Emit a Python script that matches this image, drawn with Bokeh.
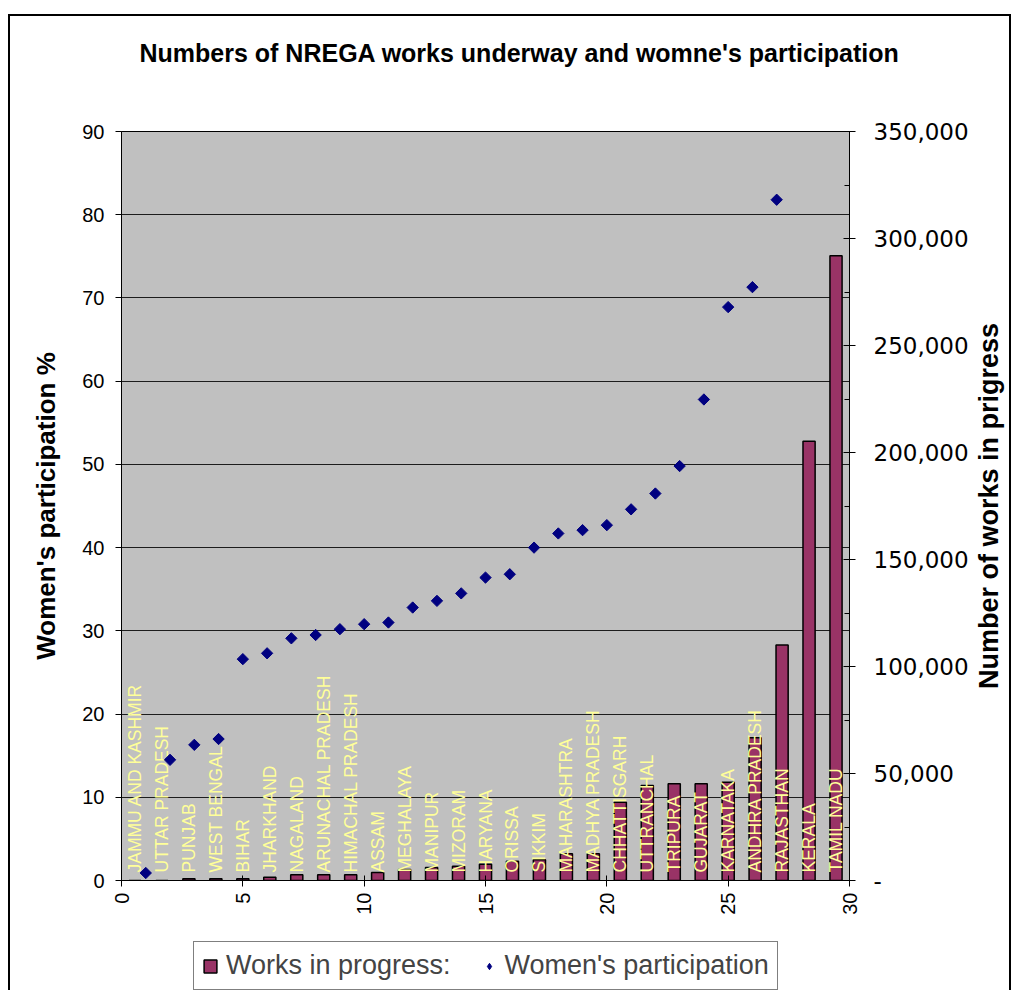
from math import pi
from bokeh.plotting import figure
from bokeh.layouts import column, row
from bokeh.models import (Range1d, LinearAxis, SingleIntervalTicker, Title,
                          CustomJSTickFormatter, Legend, LegendItem, ColumnDataSource)
from bokeh.core.properties import value
from bokeh.embed import file_html
from bokeh.resources import INLINE

# ---------------- data ----------------
states = ["JAMMU AND KASHMIR", "UTTAR PRADESH", "PUNJAB", "WEST BENGAL", "BIHAR",
          "JHARKHAND", "NAGALAND", "ARUNACHAL PRADESH", "HIMACHAL PRADESH", "ASSAM",
          "MEGHALAYA", "MANIPUR", "MIZORAM", "HARYANA", "ORISSA", "SIKKIM",
          "MAHARASHTRA", "MADHYA PRADESH", "CHHATTISGARH", "UTTRANCHAL", "TRIPURA",
          "GUJARAT", "KARNATAKA", "ANDHRA PRADESH", "RAJASTHAN", "KERALA", "TAMIL NADU"]
works = [0, 0, 800, 800, 800, 1500, 2700, 2700, 2700, 3700, 5100, 6100, 6700, 7600,
         9000, 9700, 12500, 12500, 36600, 44400, 45200, 45200, 45900, 66700, 110100,
         205300, 291900]
rank = [1, 2, 3, 4, 5, 6, 7, 8, 9, 10, 11, 12, 13, 14, 15, 16, 17, 18, 19, 20, 21,
        22, 23, 24, 25, 26, 27]
women = [0.9, 14.5, 16.3, 17.0, 26.6, 27.3, 29.1, 29.5, 30.2, 30.8, 31.0, 32.8, 33.6,
         34.5, 36.4, 36.8, 40.0, 41.7, 42.1, 42.7, 44.6, 46.5, 49.8, 57.8, 68.9, 71.3,
         81.8]

title_text = "Numbers of NREGA works underway and womne's participation"
left_title = "Women's participation %"
right_title = "Number of works in prigress"
bar_label = "Works in progress:"
pt_label = "Women's participation"

FONT = "Liberation Sans"
BAR_FILL = "#993366"
PT_FILL = "#000080"

W = 1013
W_MAIN = 975
H_MAIN = 935
H_LEG = 55
WORKS_MAX = 350000

# ---------------- main figure ----------------
p = figure(width=W_MAIN, height=H_MAIN, x_range=Range1d(0, 30), y_range=Range1d(0, 90),
           output_backend="svg", toolbar_location=None, title=None,
           min_border_left=121, min_border_right=W_MAIN - 849, min_border_top=131,
           min_border_bottom=H_MAIN - 880)
# secondary category axis: one slot per state (slot centres at rank - 0.5)
p.extra_x_ranges = {"cat": Range1d(0, len(states))}
p.extra_y_ranges = {"works": Range1d(0, WORKS_MAX)}

p.background_fill_color = "#C0C0C0"
p.border_fill_color = None
p.outline_line_color = "black"
p.outline_line_width = 1

# titles (spacer first, nearest the frame)
p.add_layout(Title(text=" ", text_font_size="43px"), "above")
p.add_layout(Title(text=title_text, text_font=FONT, text_font_size="25px",
                   text_font_style="bold", text_color="black",
                   align="left", offset=18), "above")

# grid
p.xgrid.visible = False
p.ygrid.grid_line_color = "black"
p.ygrid.grid_line_alpha = 0.85

# x axis
p.xaxis.ticker = SingleIntervalTicker(interval=5, num_minor_ticks=0)
p.xaxis.major_label_orientation = pi / 2
p.xaxis.major_label_text_font = FONT
p.xaxis.major_label_text_font_size = "20px"
p.xaxis.major_label_text_color = "black"
p.xaxis.major_tick_in = 5
p.xaxis.major_tick_out = 6
p.xaxis.minor_tick_line_color = None
p.xaxis.axis_line_color = "black"
p.xaxis.major_tick_line_color = "black"
p.xaxis.major_label_standoff = 6

# left axis
p.yaxis.ticker = SingleIntervalTicker(interval=10, num_minor_ticks=0)
p.ygrid.ticker = p.yaxis[0].ticker
p.yaxis.major_label_text_font = FONT
p.yaxis.major_label_text_font_size = "20px"
p.yaxis.major_label_text_color = "black"
p.yaxis.major_tick_in = 0
p.yaxis.major_tick_out = 6
p.yaxis.minor_tick_line_color = None
p.yaxis.axis_line_color = "black"
p.yaxis.major_tick_line_color = "black"
p.yaxis.major_label_standoff = 11
p.yaxis.axis_label = left_title
p.yaxis.axis_label_text_font = FONT
p.yaxis.axis_label_text_font_size = "26px"
p.yaxis.axis_label_text_font_style = "bold"
p.yaxis.axis_label_text_color = "black"
p.yaxis.axis_label_standoff = 18

# right axis (ticks and labels)
ax2 = LinearAxis(y_range_name="works",
                 ticker=SingleIntervalTicker(interval=50000, num_minor_ticks=2),
                 formatter=CustomJSTickFormatter(
                     code="return tick == 0 ? '-' : tick.toLocaleString('en-US');"))
ax2.major_label_text_font = "DejaVu Sans"
ax2.major_label_text_font_size = "23px"
ax2.major_label_text_color = "black"
ax2.major_tick_in = 6
ax2.major_tick_out = 6
ax2.minor_tick_in = 5
ax2.minor_tick_out = 0
ax2.major_label_standoff = 18
ax2.axis_line_color = "black"
p.add_layout(ax2, "right")

# bars
slot = [r - 0.5 for r in rank]
src = ColumnDataSource(dict(slot=slot, state=states, works=works))
bars = p.vbar(x="slot", top="works", width=0.45, source=src,
              x_range_name="cat", y_range_name="works",
              fill_color=BAR_FILL, line_color="black", line_width=1.5)

label_y = 8 * WORKS_MAX / 748.0
p.text(x="slot", y=label_y, text="state", source=src,
       x_range_name="cat", y_range_name="works",
       angle=pi / 2, text_align="left", text_baseline="middle",
       text_color="#FFFF99", text_font=value(FONT), text_font_size="17.5px")

# diamonds
pts = p.scatter(x=rank, y=women, marker="square", size=8, angle=pi / 4,
                fill_color=PT_FILL, line_color=PT_FILL)

# ---------------- right title strip ----------------
W_R = W - W_MAIN
rf = figure(width=W_R, height=H_MAIN, x_range=Range1d(0, W_R), y_range=Range1d(0, 1),
            output_backend="svg", toolbar_location=None, title=None,
            x_axis_location=None, y_axis_location=None,
            min_border_left=0, min_border_right=0, min_border_top=131,
            min_border_bottom=H_MAIN - 880)
rf.grid.visible = False
rf.outline_line_color = None
rf.background_fill_color = None
rf.border_fill_color = None
rf.text(x=[13], y=[0.5], text=[right_title], angle=pi / 2, text_align="center",
        text_baseline="middle", text_color="black", text_font=value(FONT),
        text_font_size="27px", text_font_style="bold")

# ---------------- legend strip ----------------
lf = figure(width=W, height=H_LEG, x_range=Range1d(0, 1), y_range=Range1d(0, 1),
            output_backend="svg", toolbar_location=None, title=None,
            x_axis_location=None, y_axis_location=None,
            min_border_left=121, min_border_right=W - 849, min_border_top=0,
            min_border_bottom=0)
lf.grid.visible = False
lf.outline_line_color = None
lf.background_fill_color = None
lf.border_fill_color = None
# legend proxies (tiny, hidden beneath the opaque legend box)
lb = lf.vbar(x=[0.5], bottom=[0.3], top=[0.32], width=0.005, fill_color=BAR_FILL,
             line_color="black", line_width=1.5)
lp = lf.scatter(x=[0.5], y=[0.31], marker="diamond", size=2, fill_color=PT_FILL,
                line_color=PT_FILL)
legend = Legend(items=[LegendItem(label=bar_label, renderers=[lb]),
                       LegendItem(label=pt_label, renderers=[lp])],
                location=(72, 0), orientation="horizontal",
                glyph_width=16, glyph_height=16, label_standoff=8, spacing=30,
                padding=8, margin=0, label_text_font=FONT,
                label_text_font_size="27px", border_line_color="black",
                border_line_width=1, background_fill_color="white",
                background_fill_alpha=1)
lf.add_layout(legend, "center")

line = "linear-gradient(#000,#000)"
page = column(row(p, rf, spacing=0), lf, spacing=0,
              styles={"background": (f"{line} 8px 14px / 2px 2000px no-repeat, "
                                     f"{line} 8px 14px / 1003px 2px no-repeat, "
                                     f"{line} 1009px 14px / 2px 2000px no-repeat, #fff")})

open("out.html", "w").write(file_html(page, INLINE))
